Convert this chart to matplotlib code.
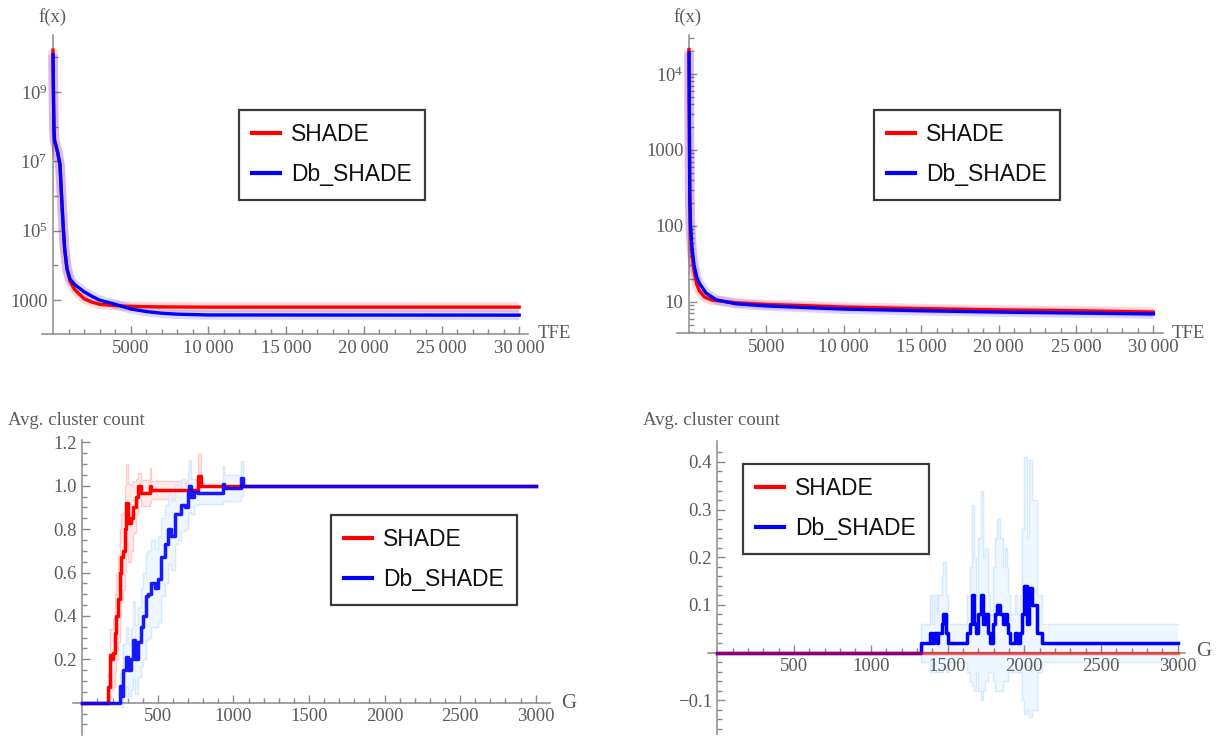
import matplotlib
matplotlib.use("Agg")
import matplotlib.pyplot as plt
from matplotlib.lines import Line2D
from matplotlib.ticker import FixedLocator, FixedFormatter, NullFormatter
import numpy as np

plt.rcParams['font.family'] = ['Liberation Serif', 'DejaVu Serif']
plt.rcParams['mathtext.fontset'] = 'custom'
plt.rcParams['mathtext.rm'] = 'Liberation Serif'
plt.rcParams['mathtext.it'] = 'Liberation Serif:italic'

# ---------------- data ----------------
series_names = ["SHADE", "Db_SHADE"]

# top-left: f(x) vs TFE
tl_tfe_shade = [0, 30, 60, 100, 300, 450, 550, 650, 750, 900, 1100, 1400, 2000, 2500, 3000, 4000, 5000, 7000, 10000, 30000]
tl_f_shade = [1.6e10, 1e9, 1e8, 4e7, 1.8e7, 8e6, 1e6, 1.5e5, 3e4, 8000, 3500, 2000, 1100, 880, 760, 700, 660, 640, 630, 630]
tl_tfe_db = [0, 30, 60, 100, 300, 450, 550, 650, 750, 900, 1100, 1400, 2000, 2500, 3000, 4000, 5000, 6000, 7000, 8000, 10000, 30000]
tl_f_db = [1.2e10, 8e8, 8e7, 4e7, 1.8e7, 8e6, 1e6, 1.5e5, 3e4, 8000, 4000, 2800, 1750, 1300, 1000, 760, 560, 470, 420, 395, 375, 370]

# top-right: f(x) vs TFE
tr_tfe_shade = [0, 20, 50, 100, 200, 330, 500, 660, 1000, 1500, 2000, 3000, 5000, 8000, 10000, 15000, 20000, 25000, 30000]
tr_f_shade = [2.1e4, 3000, 200, 80, 40, 25, 17, 14, 11.5, 10.5, 10.2, 9.7, 9.2, 8.8, 8.5, 8.1, 7.8, 7.6, 7.3]
tr_tfe_db = [0, 20, 50, 100, 200, 330, 500, 660, 1100, 1750, 3000, 5000, 8000, 10000, 15000, 20000, 25000, 30000]
tr_f_db = [1.9e4, 3000, 260, 100, 50, 30, 21, 17.6, 13, 10.6, 9.4, 8.8, 8.3, 8.0, 7.6, 7.3, 7.1, 6.9]

# bottom-left: avg. cluster count vs G (step series, mean and std)
bl_g_shade = [0, 170, 181, 195, 203, 214, 225, 236, 247, 258, 269, 280, 291, 302, 324, 335, 357, 368, 390, 445, 456, 766, 784, 3000]
bl_mean_shade = [0, 0.07, 0.22, 0.20, 0.23, 0.32, 0.40, 0.48, 0.60, 0.67, 0.70, 0.80, 0.92, 0.83, 0.85, 0.90, 0.95, 1.00, 0.965, 1.00, 0.98, 1.045, 1.0, 1.0]
bl_std_shade = [0, 0.06, 0.12, 0.14, 0.16, 0.18, 0.20, 0.20, 0.20, 0.20, 0.18, 0.20, 0.18, 0.18, 0.15, 0.12, 0.08, 0.06, 0.06, 0.08, 0.04, 0.10, 0.0, 0.0]
bl_g_db = [0, 247, 262, 269, 291, 302, 324, 335, 346, 368, 390, 401, 423, 434, 456, 478, 500, 522, 544, 566, 588, 610, 632, 654, 676, 698, 709, 720, 742, 764, 931, 940, 1053, 1062, 3000]
bl_mean_db = [0, 0.075, 0.03, 0.15, 0.21, 0.15, 0.20, 0.29, 0.20, 0.28, 0.35, 0.40, 0.49, 0.50, 0.55, 0.53, 0.57, 0.67, 0.73, 0.80, 0.77, 0.87, 0.87, 0.91, 0.90, 0.97, 1.00, 0.95, 0.97, 0.965, 1.01, 0.988, 1.034, 1.0, 1.0]
bl_std_db = [0, 0.06, 0.05, 0.12, 0.14, 0.12, 0.14, 0.18, 0.16, 0.16, 0.18, 0.20, 0.20, 0.20, 0.20, 0.18, 0.20, 0.18, 0.18, 0.16, 0.16, 0.14, 0.12, 0.12, 0.10, 0.10, 0.12, 0.08, 0.06, 0.05, 0.08, 0.06, 0.08, 0.0, 0.0]

# bottom-right: avg. cluster count vs G
br_g_shade = [0, 3000]
br_mean_shade = [0, 0]
br_std_shade = [0, 0]
br_g_db = [0, 1330, 1385, 1400, 1410, 1430, 1440, 1461, 1471, 1488, 1502, 1624, 1645, 1656, 1671, 1685, 1699, 1715, 1732, 1745, 1765, 1776, 1797, 1808, 1825, 1841, 1862, 1876, 1884, 1895, 1906, 1940, 1950, 1971, 1982, 1995, 2015, 2030, 2050, 2080, 2114, 3000]
br_mean_db = [0, 0.02, 0.04, 0.02, 0.04, 0.02, 0.04, 0.06, 0.08, 0.04, 0.02, 0.04, 0.06, 0.12, 0.06, 0.04, 0.08, 0.12, 0.06, 0.08, 0.04, 0.02, 0.06, 0.08, 0.10, 0.08, 0.06, 0.08, 0.06, 0.04, 0.02, 0.04, 0.02, 0.04, 0.08, 0.14, 0.06, 0.135, 0.10, 0.04, 0.02, 0.02]
br_std_db = [0, 0.04, 0.08, 0.04, 0.08, 0.06, 0.08, 0.10, 0.11, 0.08, 0.04, 0.08, 0.12, 0.19, 0.14, 0.08, 0.16, 0.22, 0.14, 0.14, 0.08, 0.06, 0.12, 0.16, 0.18, 0.16, 0.12, 0.14, 0.12, 0.08, 0.06, 0.08, 0.06, 0.08, 0.18, 0.27, 0.18, 0.27, 0.22, 0.08, 0.04, 0.04]

# ---------------- style ----------------
W, H = 1218, 737
RED = '#ff0000'
BLUE = '#0000ff'
AXC = '#8a8a8a'
LBLC = '#5a5a5a'
TICKFS = 13.5
LEGFS = 16.5

fig = plt.figure(figsize=(W / 100, H / 100), dpi=100)


def add_ax(left, top, width, height):
    return fig.add_axes([left / W, 1 - (top + height) / H, width / W, height / H])


def style_axes(ax, bottom_at_zero):
    for s in ['top', 'right']:
        ax.spines[s].set_visible(False)
    ax.spines['left'].set_position(('data', 0))
    if bottom_at_zero:
        ax.spines['bottom'].set_position(('data', 0))
    for s in ['left', 'bottom']:
        ax.spines[s].set_color(AXC)
        ax.spines[s].set_linewidth(1.1)
    ax.patch.set_alpha(0)
    ax.tick_params(which='both', direction='in', color=AXC, labelcolor=LBLC,
                   labelsize=TICKFS, width=1.0)
    ax.tick_params(which='major', length=6, pad=4)
    ax.tick_params(which='minor', length=3.5)


def ftext(x, y, s, ha='left', va='center', size=TICKFS, **kw):
    fig.text(x / W, 1 - y / H, s, ha=ha, va=va, fontsize=size, color=LBLC, **kw)


def grouped(v):
    v = int(v)
    return f"{v:,}".replace(",", "\u2009") if v >= 10000 else str(v)


def add_legend(ax, left, top):
    handles = [Line2D([], [], color=RED, lw=3), Line2D([], [], color=BLUE, lw=3)]
    leg = ax.legend(handles, series_names, loc='upper left',
                    bbox_to_anchor=(left / W, 1 - top / H), bbox_transform=fig.transFigure,
                    frameon=True, fancybox=False, framealpha=1, edgecolor='#3a3a3a',
                    prop={'family': 'Liberation Sans', 'size': LEGFS},
                    handlelength=1.2, handletextpad=0.5, borderpad=0.58,
                    labelspacing=0.74, borderaxespad=0)
    leg.get_frame().set_linewidth(1.6)
    for t in leg.get_texts():
        t.set_color('#111111')
    return leg


xt_tfe = [5000, 10000, 15000, 20000, 25000, 30000]
xt_tfe_minor = [v for v in range(1000, 31000, 1000) if v not in xt_tfe]

# ---------- top-left ----------
ax1 = add_ax(42, 35, 486, 299)
ax1.set_yscale('log')
ax1.set_xlim(-708, 30566)
ax1.set_ylim(106, 10 ** 10.64)
for x, y, c in [(tl_tfe_shade, tl_f_shade, RED), (tl_tfe_db, tl_f_db, BLUE)]:
    ax1.plot(x, y, color=c, lw=7, alpha=0.15, solid_capstyle='butt', zorder=3)
    ax1.plot(x, y, color=c, lw=2.4, zorder=4)
style_axes(ax1, False)
ax1.xaxis.set_major_locator(FixedLocator(xt_tfe))
ax1.xaxis.set_major_formatter(FixedFormatter([grouped(v) for v in xt_tfe]))
ax1.xaxis.set_minor_locator(FixedLocator(xt_tfe_minor))
ax1.xaxis.set_minor_formatter(NullFormatter())
ax1.yaxis.set_major_locator(FixedLocator([1e3, 1e5, 1e7, 1e9]))
ax1.yaxis.set_major_formatter(FixedFormatter(['1000', r'$\mathregular{10^5}$',
                                               r'$\mathregular{10^7}$', r'$\mathregular{10^9}$']))
ax1.yaxis.set_minor_locator(FixedLocator([1e4, 1e6, 1e8, 1e10]))
ax1.yaxis.set_minor_formatter(NullFormatter())
add_legend(ax1, 239, 110)
ftext(53, 17, 'f(x)', ha='center')
ftext(538, 333, 'TFE')

# ---------- top-right ----------
ax2 = add_ax(677, 35, 486, 298)
ax2.set_yscale('log')
ax2.set_xlim(-775, 30620)
ax2.set_ylim(3.87, 32600)
for x, y, c in [(tr_tfe_shade, tr_f_shade, RED), (tr_tfe_db, tr_f_db, BLUE)]:
    ax2.plot(x, y, color=c, lw=7, alpha=0.15, solid_capstyle='butt', zorder=3)
    ax2.plot(x, y, color=c, lw=2.4, zorder=4)
style_axes(ax2, False)
ax2.xaxis.set_major_locator(FixedLocator(xt_tfe))
ax2.xaxis.set_major_formatter(FixedFormatter([grouped(v) for v in xt_tfe]))
ax2.xaxis.set_minor_locator(FixedLocator(xt_tfe_minor))
ax2.xaxis.set_minor_formatter(NullFormatter())
ax2.yaxis.set_major_locator(FixedLocator([10, 100, 1000, 1e4]))
ax2.yaxis.set_major_formatter(FixedFormatter(['10', '100', '1000', r'$\mathregular{10^4}$']))
ax2.yaxis.set_minor_locator(FixedLocator([k * 10 ** n for n in range(0, 5) for k in range(2, 10)]))
ax2.yaxis.set_minor_formatter(NullFormatter())
add_legend(ax2, 874, 110)
ftext(688, 17, 'f(x)', ha='center')
ftext(1172, 333, 'TFE')

# ---------- bottom axes helpers ----------
xt_g = [500, 1000, 1500, 2000, 2500, 3000]
xt_g_minor = [v for v in range(100, 3100, 100) if v not in xt_g]


def band(ax, g, m, s, fillc, edgec, z):
    g = np.asarray(g, float)
    m = np.asarray(m, float)
    s = np.asarray(s, float)
    ax.fill_between(g, m - s, m + s, step='post', color=fillc, lw=0, zorder=z)
    ax.step(g, m + s, where='post', color=edgec, lw=1.0, zorder=z + 0.1)
    ax.step(g, m - s, where='post', color=edgec, lw=1.0, zorder=z + 0.1)


# ---------- bottom-left ----------
ax3 = add_ax(73, 440, 477, 295)
ax3.set_xlim(-62, 3095)
ax3.set_ylim(-0.149, 1.211)
band(ax3, bl_g_shade, bl_mean_shade, bl_std_shade, '#ffeaea', '#ffcccc', 1)
band(ax3, bl_g_db, bl_mean_db, bl_std_db, '#eef6ff', '#d6eaff', 1.2)
ax3.step(bl_g_shade, bl_mean_shade, where='post', color=RED, lw=2.5, zorder=4)
ax3.step(bl_g_db, bl_mean_db, where='post', color=BLUE, lw=2.5, alpha=0.9, zorder=5)
style_axes(ax3, True)
ax3.xaxis.set_major_locator(FixedLocator(xt_g))
ax3.xaxis.set_major_formatter(FixedFormatter([str(v) for v in xt_g]))
ax3.xaxis.set_minor_locator(FixedLocator(xt_g_minor))
ax3.xaxis.set_minor_formatter(NullFormatter())
yt3 = [0.2, 0.4, 0.6, 0.8, 1.0, 1.2]
ax3.yaxis.set_major_locator(FixedLocator(yt3))
ax3.yaxis.set_major_formatter(FixedFormatter([f"{v:.1f}" for v in yt3]))
ax3.yaxis.set_minor_locator(FixedLocator([round(v, 2) for v in np.arange(-0.15, 1.2, 0.05)
                                          if round(v, 2) not in yt3]))
ax3.yaxis.set_minor_formatter(NullFormatter())
add_legend(ax3, 331, 515)
ftext(8, 421, 'Avg. cluster count')
ftext(561, 704, 'G', size=15)

# ---------- bottom-right ----------
ax4 = add_ax(708, 441, 477, 293)
ax4.set_xlim(-61, 3047)
ax4.set_ylim(-0.171, 0.444)
band(ax4, br_g_db, br_mean_db, br_std_db, '#eef6ff', '#d6eaff', 1)
band(ax4, br_g_shade, br_mean_shade, br_std_shade, '#ffeaea', '#ffcccc', 1.2)
ax4.step(br_g_db, br_mean_db, where='post', color=BLUE, lw=2.5, zorder=4)
ax4.step(br_g_shade, br_mean_shade, where='post', color=RED, lw=2.5, alpha=0.55, zorder=5)
style_axes(ax4, True)
ax4.xaxis.set_major_locator(FixedLocator(xt_g))
ax4.xaxis.set_major_formatter(FixedFormatter([str(v) for v in xt_g]))
ax4.xaxis.set_minor_locator(FixedLocator(xt_g_minor))
ax4.xaxis.set_minor_formatter(NullFormatter())
yt4 = [-0.1, 0.1, 0.2, 0.3, 0.4]
ax4.yaxis.set_major_locator(FixedLocator(yt4))
ax4.yaxis.set_major_formatter(FixedFormatter([f"{v:.1f}".replace('-', '\u2212') for v in yt4]))
ax4.yaxis.set_minor_locator(FixedLocator([round(v, 2) for v in np.arange(-0.16, 0.44, 0.02)
                                          if round(v, 2) not in yt4 and abs(v) > 1e-9]))
ax4.yaxis.set_minor_formatter(NullFormatter())
add_legend(ax4, 743, 464)
ftext(643, 421, 'Avg. cluster count')
ftext(1196, 651, 'G', size=15)

fig.savefig('out.png', dpi=100)
